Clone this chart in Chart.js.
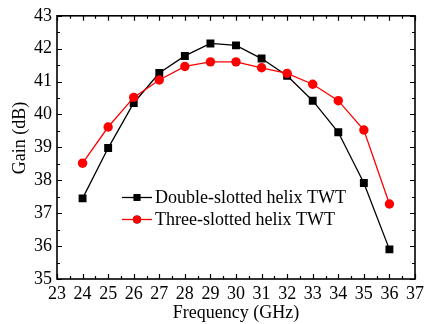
<!DOCTYPE html>
<html>
<head>
<meta charset="utf-8">
<script src="https://cdn.jsdelivr.net/npm/chart.js@4/dist/chart.umd.min.js"></script>
<style>
  html, body { margin: 0; padding: 0; background: #fff; }
  #gain-chart { display: block; }
</style>
</head>
<body>
<canvas id="gain-chart" width="430" height="324"></canvas>
<script>
// 周波数 (GHz)
const freqs = [24, 25, 26, 27, 28, 29, 30, 31, 32, 33, 34, 35, 36];
// ゲイン (dB)
const doubleSlotted = [37.45, 38.98, 40.35, 41.26, 41.78, 42.16, 42.1, 41.7, 41.18, 40.42, 39.46, 37.92, 35.9];
const threeSlotted = [38.52, 39.62, 40.52, 41.05, 41.46, 41.6, 41.6, 41.42, 41.25, 40.92, 40.42, 39.53, 37.28];
const seriesNames = ['Double-slotted helix TWT', 'Three-slotted helix TWT'];
const xRange = [23, 37];
const yRange = [35, 43];
const xTitle = 'Frequency (GHz)';
const yTitle = 'Gain (dB)';

const FONT = "'Liberation Serif', 'Times New Roman', serif";

function toPoints(xs, ys) {
    return xs.map(function(v, i) { return {x: v, y: ys[i]}; });
}

// 枠と内向きの目盛り
const frameTicks = {
    id: 'frameTicks',
    afterDraw(chart) {
        const ctx = chart.ctx;
        const a = chart.chartArea;
        const xs = chart.scales.x, ys = chart.scales.y;
        ctx.save();
        ctx.strokeStyle = '#000';
        ctx.lineWidth = 1.2;
        ctx.beginPath();
        for (let v = xs.min; v <= xs.max + 1e-9; v += 0.5) {
            const px = Math.round(xs.getPixelForValue(v)) + 0.5;
            const len = Number.isInteger(v) ? 5 : 3;
            ctx.moveTo(px, a.bottom); ctx.lineTo(px, a.bottom - len);
            ctx.moveTo(px, a.top); ctx.lineTo(px, a.top + len);
        }
        for (let v = ys.min; v <= ys.max + 1e-9; v += 0.5) {
            const py = Math.round(ys.getPixelForValue(v)) + 0.5;
            const len = Number.isInteger(v) ? 5 : 3;
            ctx.moveTo(a.left, py); ctx.lineTo(a.left + len, py);
            ctx.moveTo(a.right, py); ctx.lineTo(a.right - len, py);
        }
        ctx.stroke();
        ctx.lineWidth = 1.6;
        ctx.strokeRect(a.left, a.top, a.right - a.left, a.bottom - a.top);

        // y軸タイトル (少し上寄り)
        ctx.fillStyle = '#000';
        ctx.font = '18px ' + FONT;
        ctx.textAlign = 'center';
        ctx.textBaseline = 'middle';
        ctx.translate(20, 138);
        ctx.rotate(-Math.PI / 2);
        ctx.fillText(yTitle, 0, 0);
        ctx.restore();
    }
};

// 凡例 (グラフ内に配置)
const innerLegend = {
    id: 'innerLegend',
    afterDraw(chart) {
        const ctx = chart.ctx;
        const x0 = 122, x1 = 152, tx = 155;
        const rows = [197.5, 219.5];
        ctx.save();
        chart.data.datasets.forEach(function(ds, i) {
            const y = rows[i];
            ctx.strokeStyle = ds.borderColor;
            ctx.lineWidth = ds.borderWidth;
            ctx.beginPath();
            ctx.moveTo(x0, y); ctx.lineTo(x1, y);
            ctx.stroke();
            Chart.helpers.drawPoint(ctx, {
                pointStyle: ds.pointStyle,
                radius: ds.pointRadius * 0.85,
                borderWidth: 0
            }, (x0 + x1) / 2, y);
            ctx.fillStyle = ds.pointBackgroundColor;
            ctx.fill();
            ctx.fillStyle = '#000';
            ctx.font = '18px ' + FONT;
            ctx.textBaseline = 'middle';
            ctx.textAlign = 'left';
            ctx.fillText(ds.label, tx, y + 1);
        });
        ctx.restore();
    }
};

new Chart(document.getElementById('gain-chart').getContext('2d'), {
    type: 'line',
    data: {
        datasets: [{
            label: seriesNames[0],
            data: toPoints(freqs, doubleSlotted),
            borderColor: '#000000',
            backgroundColor: '#000000',
            pointBackgroundColor: '#000000',
            pointBorderWidth: 0,
            borderWidth: 1.3,
            pointStyle: 'rect',
            pointRadius: 5.6,
            fill: false,
            tension: 0,
            order: 1
        }, {
            label: seriesNames[1],
            data: toPoints(freqs, threeSlotted),
            borderColor: '#ff0000',
            backgroundColor: '#ff0000',
            pointBackgroundColor: '#ff0000',
            pointBorderWidth: 0,
            borderWidth: 1.3,
            pointStyle: 'circle',
            pointRadius: 4.7,
            fill: false,
            tension: 0,
            order: 0
        }]
    },
    options: {
        responsive: false,
        animation: false,
        layout: {padding: {left: 0, top: 15, right: 15, bottom: 0}},
        plugins: {
            legend: {display: false},
            tooltip: {enabled: false}
        },
        scales: {
            x: {
                type: 'linear',
                min: xRange[0],
                max: xRange[1],
                grid: {display: false, drawTicks: false},
                border: {display: false},
                ticks: {stepSize: 1, color: '#000', padding: 4, font: {family: FONT, size: 18}},
                title: {display: true, text: xTitle, color: '#000', padding: 0, font: {family: FONT, size: 18}},
                afterFit(scale) { scale.height = 45; }
            },
            y: {
                type: 'linear',
                min: yRange[0],
                max: yRange[1],
                grid: {display: false, drawTicks: false},
                border: {display: false},
                ticks: {stepSize: 1, color: '#000', padding: 5, font: {family: FONT, size: 18}},
                title: {display: false},
                afterFit(scale) { scale.width = 57; }
            }
        }
    },
    plugins: [frameTicks, innerLegend]
});
</script>
</body>
</html>
